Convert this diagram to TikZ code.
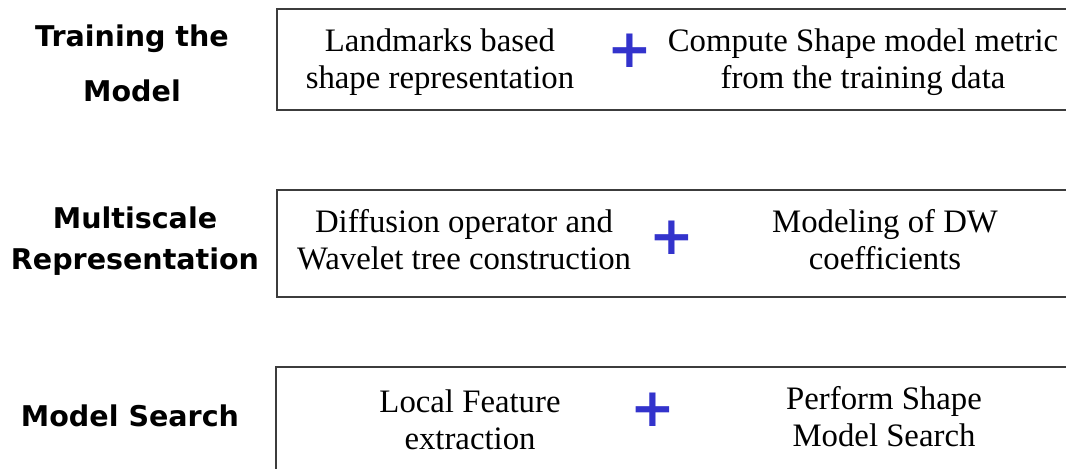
\documentclass[tikz,border=0pt]{standalone}
\usepackage{fontspec}
\setmainfont{Liberation Serif}
\newfontfamily\stagefont{DejaVu Sans}
\usetikzlibrary{positioning}
\definecolor{plusblue}{RGB}{51,51,204}
\definecolor{bandgray}{RGB}{60,60,60}

\begin{document}
\begin{tikzpicture}[
  x=0.025cm, y=-0.025cm,
  stage/.style={font=\stagefont\bfseries\fontsize{20.3}{29}\selectfont, align=center, inner sep=0pt},
  task/.style={font=\fontsize{23.3}{26.3}\selectfont, align=center, inner sep=0pt},
  plus/.style={text=plusblue, font=\stagefont\bfseries\fontsize{38}{38}\selectfont, inner sep=0pt},
  band/.style={draw=bandgray, line width=0.9pt}
]
\useasboundingbox (0,0) rectangle (1066,468);
\clip (0,0) rectangle (1066,468);

\draw[band] (1080,9) -- (277,9) -- (277,110) -- (1080,110);
\draw[band] (1080,190) -- (277,190) -- (277,297) -- (1080,297);
\draw[band] (1080,367) -- (276,367) -- (276,480);

\node[stage] (train) at (132,63) {Training the\\[10pt]Model};
\node[stage] (multi) at (135,241) {Multiscale\\Representation};
\node[stage] (search) at (130,416) {Model Search};

\node[task] (landmark) at (440,62) {Landmarks based\\shape representation};
\node[plus] (plus1) at (630,51) {+};
\node[task] (metric) at (863,62) {Compute Shape model metric\\from the training data};

\node[task] (diffusion) at (464,240) {Diffusion operator and\\Wavelet tree construction};
\node[plus] (plus2) at (672,238) {+};
\node[task] (coeff) at (885,240) {Modeling of DW\\coefficients};

\node[task] (feature) at (470,420) {Local Feature\\extraction};
\node[plus] (plus3) at (653,410) {+};
\node[task] (modelsearch) at (884,417) {Perform Shape\\Model Search};
\end{tikzpicture}
\end{document}
